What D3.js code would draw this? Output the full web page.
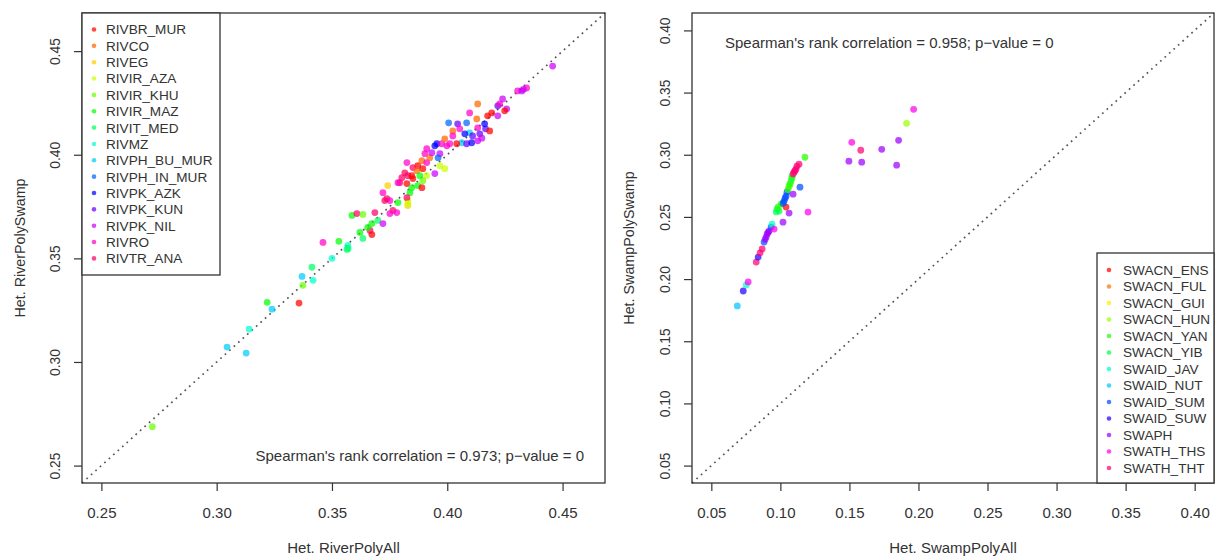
<!DOCTYPE html>
<html>
<head>
<meta charset="utf-8">
<script src="https://cdn.jsdelivr.net/npm/d3@7"></script>
<style>
  html, body { margin: 0; padding: 0; background: #fff; }
  svg { display: block; font-family: "Liberation Sans", Arial, sans-serif; }
</style>
</head>
<body>
<svg id="chart" width="1215" height="557"></svg>
<script>
// ---- River populations: heterozygosity, all SNPs vs. river/swamp polymorphic SNPs ----
const riverPops = ["RIVBR_MUR", "RIVCO", "RIVEG", "RIVIR_AZA", "RIVIR_KHU", "RIVIR_MAZ",
  "RIVIT_MED", "RIVMZ", "RIVPH_BU_MUR", "RIVPH_IN_MUR", "RIVPK_AZK", "RIVPK_KUN",
  "RIVPK_NIL", "RIVRO", "RIVTR_ANA"];

const riverAll = [
  0.2721, 0.3045, 0.3128, 0.3141, 0.3219, 0.3240, 0.3357, 0.3370, 0.3374, 0.3418,
  0.3413, 0.3461, 0.3500, 0.3530, 0.3565, 0.3569, 0.3587, 0.3608, 0.3634, 0.3621,
  0.3634, 0.3665, 0.3673, 0.3686, 0.3673, 0.3699, 0.3721, 0.3721, 0.3742, 0.3738,
  0.3751, 0.3764, 0.3781, 0.3786, 0.3751, 0.3829, 0.3829, 0.3794, 0.3829, 0.3851,
  0.3872, 0.3890, 0.3825, 0.3872, 0.3851, 0.3868, 0.3894, 0.3890, 0.3911, 0.3903,
  0.3924, 0.3911, 0.3933, 0.3946, 0.3955, 0.3968, 0.3976, 0.3989, 0.3998, 0.4011,
  0.3968, 0.3989, 0.3946, 0.3816, 0.3803, 0.3846, 0.3881, 0.3911, 0.3894, 0.3786,
  0.3825, 0.3846, 0.3838, 0.3825, 0.3829, 0.3729, 0.4006, 0.4045, 0.4084, 0.4132,
  0.4166, 0.4054, 0.4024, 0.4097, 0.4076, 0.4110, 0.4141, 0.4024, 0.4063, 0.4084,
  0.4106, 0.4132, 0.4041, 0.4132, 0.4097, 0.4128, 0.4162, 0.4193, 0.4175, 0.4219,
  0.4219, 0.4240, 0.4258, 0.4249, 0.4184, 0.4305, 0.4323, 0.4344, 0.4330, 0.4457,
  0.4227, 0.3570, 0.3655, 0.4150, 0.3960
];
const riverSwamp = [
  0.2688, 0.3072, 0.3043, 0.3159, 0.3288, 0.3255, 0.3284, 0.3413, 0.3370, 0.3394,
  0.3457, 0.3577, 0.3500, 0.3582, 0.3543, 0.3562, 0.3707, 0.3716, 0.3712, 0.3625,
  0.3596, 0.3635, 0.3615, 0.3721, 0.3668, 0.3683, 0.3668, 0.3817, 0.3851, 0.3788,
  0.3779, 0.3731, 0.3721, 0.3769, 0.3716, 0.3779, 0.3755, 0.3865, 0.3899, 0.3885,
  0.3851, 0.3841, 0.3962, 0.3947, 0.3938, 0.3923, 0.3933, 0.3971, 0.3962, 0.4005,
  0.3986, 0.4029, 0.4010, 0.4043, 0.4053, 0.4005, 0.4053, 0.4077, 0.4043, 0.4053,
  0.3947, 0.3933, 0.3909, 0.3913, 0.3889, 0.3899, 0.3899, 0.3899, 0.3875, 0.3865,
  0.3861, 0.3841, 0.3817, 0.3793, 0.3764, 0.3779, 0.4154, 0.4149, 0.4154, 0.4130,
  0.4125, 0.4125, 0.4115, 0.4106, 0.4101, 0.4091, 0.4101, 0.4091, 0.4058, 0.4053,
  0.4058, 0.4067, 0.4053, 0.4245, 0.4202, 0.4173, 0.4149, 0.4202, 0.4188, 0.4188,
  0.4236, 0.4269, 0.4221, 0.4212, 0.4115, 0.4308, 0.4308, 0.4322, 0.4315, 0.4428,
  0.4245, 0.3548, 0.3650, 0.4080, 0.3985
];
const riverPop = [
  4, 8, 8, 7, 5, 8, 0, 8, 4, 7,
  6, 13, 7, 5, 6, 7, 5, 14, 4, 5,
  6, 14, 0, 14, 5, 6, 12, 13, 2, 14,
  13, 14, 13, 5, 13, 3, 2, 14, 14, 0,
  5, 0, 13, 0, 14, 1, 0, 1, 13, 13,
  1, 13, 12, 10, 10, 12, 13, 1, 13, 13,
  3, 3, 12, 14, 14, 0, 5, 3, 4, 13,
  0, 5, 5, 14, 3, 14, 9, 11, 9, 13,
  11, 13, 1, 8, 10, 11, 11, 13, 8, 11,
  10, 12, 0, 1, 13, 1, 10, 0, 0, 12,
  11, 12, 12, 0, 0, 13, 12, 13, 12, 12,
  13, 6, 5, 12, 9
];

// ---- Swamp populations ----
const swampPops = ["SWACN_ENS", "SWACN_FUL", "SWACN_GUI", "SWACN_HUN", "SWACN_YAN",
  "SWACN_YIB", "SWAID_JAV", "SWAID_NUT", "SWAID_SUM", "SWAID_SUW", "SWAPH",
  "SWATH_THS", "SWATH_THT"];

const swampAll = [
  0.0688, 0.0731, 0.0753, 0.0767, 0.0825, 0.0839, 0.0853, 0.0868, 0.0882, 0.0890,
  0.0897, 0.0904, 0.0911, 0.0918, 0.0933, 0.0940, 0.0955, 0.1019, 0.0970, 0.0976,
  0.0991, 0.0984, 0.1005, 0.1041, 0.1063, 0.1200, 0.1020, 0.1027, 0.1034, 0.1041,
  0.1048, 0.1092, 0.1142, 0.1055, 0.1063, 0.1070, 0.1077, 0.1084, 0.1084, 0.1092,
  0.1099, 0.1106, 0.1113, 0.1120, 0.1135, 0.1178, 0.1517, 0.1582, 0.1496, 0.1589,
  0.1734, 0.1856, 0.1842, 0.1914, 0.1965
];
const swampSwamp = [
  0.1784, 0.1904, 0.1953, 0.1977, 0.2137, 0.2177, 0.2210, 0.2242, 0.2298, 0.2320,
  0.2338, 0.2362, 0.2375, 0.2386, 0.2418, 0.2442, 0.2402, 0.2458, 0.2540, 0.2563,
  0.2547, 0.2580, 0.2603, 0.2579, 0.2531, 0.2539, 0.2610, 0.2627, 0.2650, 0.2667,
  0.2699, 0.2683, 0.2739, 0.2720, 0.2747, 0.2765, 0.2787, 0.2810, 0.2827, 0.2845,
  0.2860, 0.2872, 0.2884, 0.2908, 0.2924, 0.2980, 0.3100, 0.3036, 0.2948, 0.2940,
  0.3044, 0.3116, 0.2916, 0.3253, 0.3365
];
const swampPop = [
  7, 9, 6, 11, 12, 9, 12, 12, 8, 10,
  10, 10, 10, 10, 8, 6, 11, 10, 5, 5,
  5, 4, 4, 0, 10, 11, 8, 8, 8, 8,
  8, 10, 8, 4, 4, 4, 4, 5, 4, 12,
  12, 12, 12, 12, 12, 4, 11, 12, 10, 10,
  10, 10, 10, 3, 11
];

// Axis limits (before the usual 4% padding) and tick values
const riverLimits = [0.25, 0.46];
const swampLimits = [0.05, 0.40];
const riverTicks = [0.25, 0.30, 0.35, 0.40, 0.45];
const swampTicks = [0.05, 0.10, 0.15, 0.20, 0.25, 0.30, 0.35, 0.40];

const riverNote = "Spearman's rank correlation = 0.973; p\u2212value = 0";
const swampNote = "Spearman's rank correlation = 0.958; p\u2212value = 0";

// Rainbow palette: evenly spaced hues at full saturation/value
function rainbow(n) {
  return d3.range(n).map(i => d3.hsl(i * 360 / n, 1, 0.5).formatHex());
}

const svg = d3.select("#chart");
const INK = "#333";
const FS_X = 15;      // horizontal text (x ticks, titles, notes)
const FS_Y = 13.8;    // rotated tick labels
const FS_YT = 14.3;   // rotated axis titles
const FS_LEG = 13.6;  // legend entries

function padded(lim) {
  const e = (lim[1] - lim[0]) * 0.04;
  return [lim[0] - e, lim[1] + e];
}

function drawPanel(p) {
  const g = svg.append("g");
  const dom = padded(p.limits);
  const x = d3.scaleLinear().domain(dom).range([p.box.left, p.box.right]);
  const y = d3.scaleLinear().domain(dom).range([p.box.bottom, p.box.top]);
  const colors = rainbow(p.pops.length);

  // y = x reference line
  g.append("line")
    .attr("x1", x(dom[0])).attr("y1", y(dom[0]))
    .attr("x2", x(dom[1])).attr("y2", y(dom[1]))
    .attr("stroke", "#555").attr("stroke-width", 1.7)
    .attr("stroke-dasharray", "1.7,4.3");

  // points
  g.append("g").selectAll("circle")
    .data(p.xs.map((v, i) => ({ x: v, y: p.ys[i], k: p.groups[i] })))
    .join("circle")
    .attr("cx", d => x(d.x))
    .attr("cy", d => y(d.y))
    .attr("r", 3.4)
    .attr("fill", d => colors[d.k])
    .attr("fill-opacity", 0.72);

  // bottom axis
  const ax = g.append("g")
    .attr("transform", `translate(0,${p.box.bottom})`)
    .call(d3.axisBottom(x).tickValues(p.ticks).tickSize(8).tickFormat(d3.format(".2f")));
  ax.attr("font-family", null).attr("font-size", null);
  ax.select(".domain").remove();
  ax.selectAll(".tick line").attr("stroke", INK).attr("stroke-width", 1.2);
  ax.selectAll(".tick text")
    .attr("y", 34.5).attr("dy", null)
    .attr("fill", INK).attr("font-size", FS_X);

  // left axis with rotated labels
  const ay = g.append("g")
    .attr("transform", `translate(${p.box.left},0)`)
    .call(d3.axisLeft(y).tickValues(p.ticks).tickSize(8).tickFormat(d3.format(".2f")));
  ay.attr("font-family", null).attr("font-size", null);
  ay.select(".domain").remove();
  ay.selectAll(".tick line").attr("stroke", INK).attr("stroke-width", 1.2);
  ay.selectAll(".tick text")
    .attr("x", null).attr("dy", null)
    .attr("text-anchor", "middle")
    .attr("transform", "translate(-22.5,0) rotate(-90)")
    .attr("fill", INK).attr("font-size", FS_Y);

  // plot frame
  g.append("rect")
    .attr("x", p.box.left).attr("y", p.box.top)
    .attr("width", p.box.right - p.box.left)
    .attr("height", p.box.bottom - p.box.top)
    .attr("fill", "none").attr("stroke", INK).attr("stroke-width", 1.3);

  // axis titles
  g.append("text")
    .attr("x", (p.box.left + p.box.right) / 2).attr("y", 552.5)
    .attr("text-anchor", "middle").attr("font-size", FS_X).attr("fill", INK)
    .text(p.xTitle);
  g.append("text")
    .attr("transform", `translate(${p.yTitleX},${(p.box.top + p.box.bottom) / 2}) rotate(-90)`)
    .attr("text-anchor", "middle").attr("font-size", FS_YT).attr("fill", INK)
    .text(p.yTitle);

  // correlation note
  g.append("text")
    .attr("x", p.note.x).attr("y", p.note.y)
    .attr("text-anchor", p.note.anchor).attr("font-size", FS_X).attr("fill", INK)
    .text(p.note.text);

  // legend
  const L = p.legend;
  g.append("rect")
    .attr("x", L.x0).attr("y", L.y0)
    .attr("width", L.x1 - L.x0).attr("height", L.y1 - L.y0)
    .attr("fill", "#fff").attr("stroke", INK).attr("stroke-width", 1.3);
  const rows = g.append("g").selectAll("g")
    .data(p.pops)
    .join("g")
    .attr("transform", (d, i) => `translate(0,${L.firstY + i * L.step})`);
  rows.append("circle")
    .attr("cx", L.dotX).attr("cy", 0).attr("r", 2.3)
    .attr("fill", (d, i) => colors[i]).attr("fill-opacity", 0.72);
  rows.append("text")
    .attr("x", L.textX).attr("y", 0).attr("dy", "0.36em")
    .attr("font-size", FS_LEG).attr("fill", INK)
    .text(d => d);
}

drawPanel({
  box: { left: 82, right: 605, top: 13, bottom: 483 },
  limits: riverLimits, ticks: riverTicks,
  pops: riverPops, xs: riverAll, ys: riverSwamp, groups: riverPop,
  xTitle: "Het. RiverPolyAll", yTitle: "Het. RiverPolySwamp", yTitleX: 24.5,
  note: { x: 584, y: 460.5, anchor: "end", text: riverNote },
  legend: { x0: 82, y0: 13, x1: 220, y1: 275, dotX: 94, textX: 106, firstY: 29.5, step: 16.35 }
});

drawPanel({
  box: { left: 692, right: 1214, top: 13, bottom: 483 },
  limits: swampLimits, ticks: swampTicks,
  pops: swampPops, xs: swampAll, ys: swampSwamp, groups: swampPop,
  xTitle: "Het. SwampPolyAll", yTitle: "Het. SwampPolySwamp", yTitleX: 633.5,
  note: { x: 725, y: 47.5, anchor: "start", text: swampNote },
  legend: { x0: 1097, y0: 253, x1: 1214, y1: 483, dotX: 1109, textX: 1123, firstY: 270, step: 16.5 }
});
</script>
</body>
</html>
